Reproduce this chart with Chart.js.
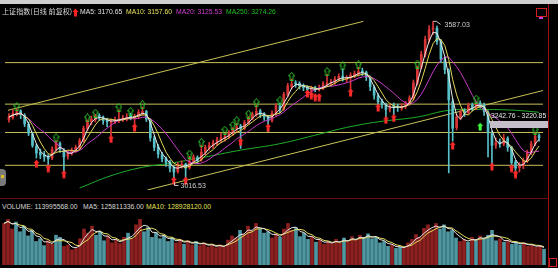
<!DOCTYPE html>
<html>
<head>
<meta charset="utf-8">
<script src="https://cdn.jsdelivr.net/npm/chart.js@4.4.1/dist/chart.umd.min.js"></script>
<style>
  body { margin: 0; background: #000; width: 558px; height: 268px; overflow: hidden; position: relative;
         font-family: "Liberation Sans", Arial, sans-serif; }
  .abs { position: absolute; white-space: nowrap; line-height: 1; }
  .t { font-size: 6.8px; }
</style>
</head>
<body>
<div class="abs" style="left:0;top:0;width:558px;height:4px;background:#cfcfcf"></div>

<div class="abs" style="left:0;top:5px;width:548px;height:190px"><canvas id="price" width="548" height="190"></canvas></div>
<div class="abs" style="left:0;top:211px;width:548px;height:54px"><canvas id="volume" width="548" height="54"></canvas></div>

<div class="abs" style="left:0;top:198px;width:548px;height:1px;background:#6a0c0c"></div>
<div class="abs" style="left:548px;top:4px;width:1px;height:264px;background:#a01010"></div>

<div class="abs" style="left:2px;top:8px;font-size:7.1px;color:#d8d8d8;font-family:'Noto Sans CJK SC'">上证指数(日线 前复权)</div>
<canvas class="abs" id="titleArrow" width="7" height="9" style="left:72px;top:8px"></canvas>
<div class="abs t" style="left:80px;top:9px;color:#e0e0e0">MA5: 3170.65</div>
<div class="abs t" style="left:126px;top:9px;color:#e6e05a">MA10: 3157.60</div>
<div class="abs t" style="left:176px;top:9px;color:#d040d0">MA20: 3125.53</div>
<div class="abs t" style="left:226px;top:9px;color:#20c020">MA250: 3274.26</div>

<div class="abs t" style="left:2px;top:204px;color:#d8d8d8">VOLUME: 113995568.00</div>
<div class="abs t" style="left:83px;top:204px;color:#d8d8d8">MA5: 125811336.00</div>
<div class="abs t" style="left:146px;top:204px;color:#e6e05a">MA10: 128928120.00</div>

<div class="abs" style="left:490px;top:121px;width:58px;height:7px;background:#c4bfc8"></div>
<div class="abs t" style="left:491px;top:113px;color:#e8e8e8">3242.76 - 3220.85</div>

<div class="abs" style="left:0;top:169px;width:6px;height:17px;background:#7a7a7a;border-radius:0 4px 4px 0"></div>
<div class="abs" style="left:1px;top:175px;width:3px;height:3px;background:#e0c020"></div>
<div class="abs" style="left:536px;top:8px;width:9px;height:7px;border:1px solid #d02020"></div>
<div class="abs" style="left:539px;top:17px;width:4px;height:2px;background:#c040e0"></div>
<div class="abs" style="left:549px;top:258px;width:6px;height:7px;border:1px solid #d02020"></div>

<script>
// one bar here covers about 4 px of the source picture
const closes = [
  3246, 3260, 3266, 3256, 3222, 3189, 3145, 3118, 3111, 3104,
  3097, 3131, 3155, 3131, 3104, 3118, 3128, 3138, 3162, 3206,
  3233, 3239, 3249, 3246, 3233, 3229, 3233, 3236, 3239, 3243,
  3246, 3246, 3249, 3263, 3266, 3239, 3172, 3138, 3114, 3097,
  3084, 3064, 3050, 3077, 3077, 3064, 3087, 3104, 3091, 3121,
  3138, 3145, 3155, 3165, 3172, 3178, 3189, 3206, 3212, 3206,
  3226, 3243, 3256, 3266, 3256, 3246, 3233, 3260, 3287, 3273,
  3327, 3357, 3364, 3364, 3357, 3351, 3344, 3347, 3344, 3347,
  3364, 3368, 3371, 3381, 3391, 3384, 3384, 3395, 3401, 3408,
  3405, 3388, 3354, 3324, 3300, 3290, 3273, 3283, 3283, 3280,
  3283, 3293, 3314, 3368, 3425, 3469, 3523, 3557, 3563, 3516,
  3452, 3415, 3307, 3206, 3246, 3263, 3263, 3287, 3280, 3293,
  3290, 3266, 3189, 3145, 3155, 3151, 3172, 3138, 3084, 3064,
  3074, 3091, 3121, 3151, 3178, 3172
];
const opens = [
  3236, 3244, 3258, 3268, 3252, 3220, 3185, 3142, 3120, 3112,
  3104, 3100, 3130, 3152, 3128, 3106, 3116, 3126, 3136, 3160,
  3204, 3230, 3236, 3252, 3246, 3236, 3226, 3230, 3234, 3238,
  3240, 3250, 3244, 3248, 3260, 3266, 3236, 3170, 3140, 3112,
  3098, 3086, 3066, 3052, 3074, 3078, 3066, 3088, 3102, 3094,
  3120, 3136, 3144, 3152, 3164, 3170, 3176, 3188, 3204, 3214,
  3206, 3224, 3240, 3254, 3268, 3258, 3248, 3234, 3258, 3286,
  3274, 3324, 3354, 3368, 3366, 3358, 3352, 3342, 3350, 3344,
  3348, 3362, 3366, 3370, 3380, 3392, 3380, 3386, 3394, 3400,
  3410, 3406, 3388, 3352, 3322, 3302, 3290, 3274, 3286, 3282,
  3278, 3284, 3292, 3312, 3366, 3424, 3468, 3520, 3560, 3562,
  3514, 3450, 3412, 3300, 3208, 3244, 3266, 3262, 3288, 3280,
  3296, 3290, 3262, 3186, 3146, 3158, 3150, 3170, 3136, 3086,
  3066, 3072, 3090, 3120, 3150, 3180
];
const highs = [
  3258, 3272, 3276, 3272, 3258, 3228, 3192, 3150, 3132, 3124,
  3112, 3140, 3162, 3158, 3134, 3126, 3136, 3146, 3170, 3214,
  3236, 3250, 3256, 3258, 3250, 3242, 3240, 3246, 3272, 3252,
  3258, 3260, 3256, 3272, 3282, 3270, 3240, 3178, 3148, 3120,
  3104, 3092, 3072, 3084, 3090, 3082, 3106, 3112, 3108, 3146,
  3146, 3156, 3164, 3174, 3190, 3188, 3198, 3208, 3224, 3220,
  3234, 3248, 3264, 3288, 3274, 3262, 3252, 3268, 3294, 3296,
  3334, 3366, 3382, 3376, 3372, 3364, 3358, 3356, 3356, 3360,
  3372, 3398, 3380, 3390, 3400, 3418, 3394, 3404, 3410, 3424,
  3420, 3410, 3392, 3358, 3330, 3310, 3296, 3292, 3296, 3292,
  3294, 3302, 3322, 3378, 3428, 3480, 3534, 3572, 3587.03, 3570,
  3522, 3460, 3418, 3310, 3256, 3272, 3276, 3296, 3296, 3302,
  3304, 3296, 3268, 3196, 3172, 3168, 3184, 3176, 3142, 3092,
  3084, 3100, 3128, 3160, 3190, 3186
];
const lows = [
  3228, 3238, 3250, 3240, 3212, 3180, 3138, 3100, 3098, 3088,
  3076, 3094, 3124, 3120, 3050, 3096, 3110, 3120, 3130, 3156,
  3198, 3218, 3228, 3234, 3220, 3212, 3178, 3222, 3226, 3230,
  3232, 3236, 3216, 3240, 3252, 3230, 3160, 3126, 3100, 3086,
  3070, 3050, 3016.53, 3046, 3064, 3030, 3060, 3082, 3080, 3088,
  3112, 3128, 3134, 3144, 3156, 3160, 3170, 3180, 3192, 3134,
  3200, 3220, 3236, 3248, 3244, 3234, 3195, 3228, 3252, 3262,
  3270, 3318, 3346, 3352, 3346, 3340, 3337, 3337, 3336, 3338,
  3344, 3356, 3358, 3362, 3374, 3374, 3370, 3344, 3386, 3392,
  3394, 3376, 3340, 3310, 3288, 3278, 3246, 3264, 3254, 3266,
  3270, 3276, 3288, 3306, 3360, 3418, 3460, 3512, 3540, 3505,
  3440, 3400, 3047, 3160, 3200, 3236, 3248, 3256, 3268, 3272,
  3278, 3252, 3104, 3080, 3134, 3138, 3144, 3124, 3070, 3052,
  3050, 3062, 3084, 3112, 3144, 3160
];
// volume in millions
const volumes = [
  300, 330, 260, 310, 240, 280, 210, 250, 170, 190,
  140, 175, 150, 215, 200, 135, 145, 110, 120, 190,
  260, 230, 280, 215, 240, 175, 210, 160, 185, 155,
  200, 230, 190, 290, 330, 240, 270, 200, 235, 190,
  215, 170, 195, 160, 185, 150, 175, 145, 170, 140,
  160, 130, 150, 125, 145, 130, 180, 210, 195, 250,
  225, 280, 245, 300, 260, 230, 240, 195, 225, 200,
  260, 300, 250, 270, 205, 230, 185, 205, 165, 180,
  150, 170, 155, 185, 160, 195, 170, 205, 180, 215,
  195, 225, 190, 200, 160, 170, 135, 145, 120, 130,
  125, 160, 185, 220, 200, 265, 290, 255, 300, 260,
  290, 240, 250, 195, 170, 185, 165, 200, 180, 210,
  190, 215, 250, 175, 190, 165, 175, 150, 165, 145,
  160, 135, 145, 128, 138, 114
];
// MA250, read at a few spots along the green line
const ma250Idx = [18, 26, 34, 41, 49, 59, 69, 79, 86, 94, 104, 112, 120, 129, 135];
const ma250Vals = [2993, 3037, 3067, 3081, 3101, 3128, 3151, 3185, 3209, 3229, 3246, 3270, 3273, 3270, 3263];

const levelLines = [3440, 3292, 3191, 3074];
const upperTrend = [{ x: -0.25, y: 3270 }, { x: 90.25, y: 3587 }];
const lowerTrend = [{ x: 35.25, y: 2986 }, { x: 136, y: 3340.6 }];

const buyIdx = [7, 10, 14, 26, 32, 42, 45, 59, 66, 76, 77, 78, 79, 87, 94, 96, 98, 113, 123, 128, 129];
const buyVals = [3080, 3064, 3043, 3168, 3209, 3020, 3020, 3158, 3209, 3330, 3324, 3317, 3317, 3334, 3280, 3236, 3243, 3145, 3070, 3064, 3043];
const sellIdx = [2, 12, 20, 22, 28, 31, 34, 46, 49, 55, 57, 58, 61, 63, 69, 72, 81, 85, 89, 104, 119, 134];
const sellVals = [3283, 3172, 3243, 3260, 3280, 3266, 3290, 3114, 3155, 3199, 3216, 3233, 3256, 3297, 3304, 3391, 3408, 3428, 3432, 3435, 3310, 3199];
const specialIdx = [120];
const specialVals = [3212];

const UP = '#d83636';
const DOWN = '#58c0c8';
const LEVEL = '#c9c156';

function movingAvg(arr, n) {
  return arr.map((_, i) => {
    const s = arr.slice(Math.max(0, i - n + 1), i + 1);
    return s.reduce((a, b) => a + b, 0) / s.length;
  });
}

function arrowImg(color, filled) {
  const c = document.createElement('canvas');
  c.width = 7; c.height = 9;
  const g = c.getContext('2d');
  g.beginPath();
  g.moveTo(3.5, 0.5); g.lineTo(6.5, 4); g.lineTo(5, 4); g.lineTo(5, 8.5);
  g.lineTo(2, 8.5); g.lineTo(2, 4); g.lineTo(0.5, 4); g.closePath();
  if (filled) { g.fillStyle = color; g.fill(); }
  else { g.strokeStyle = color; g.lineWidth = 1; g.stroke(); }
  return c;
}

(function () {
  const g = document.getElementById('titleArrow').getContext('2d');
  g.drawImage(arrowImg('#ff2020', true), 0, 0);
})();

const idx = closes.map((_, i) => i);
const isUp = idx.map(i => closes[i] >= opens[i]);
const pts = (xs, ys) => xs.map((x, i) => ({ x: x, y: ys[i] }));

// bars are ~2 px in the source, so MA5/10/20 span 3/5/10 bars here
const ma5 = movingAvg(closes, 3);
const ma10 = movingAvg(closes, 5);
const ma20 = movingAvg(closes, 10);
const vma5 = movingAvg(volumes, 3);
const vma10 = movingAvg(volumes, 5);

const line = (data, color, order, extra) => Object.assign({
  type: 'line', data: data, borderColor: color, borderWidth: 1,
  pointRadius: 0, fill: false, order: order
}, extra || {});

const arrows = (data, img, order) => ({
  type: 'line', data: data, showLine: false, pointStyle: img,
  pointRadius: 4, order: order
});

const marks = {
  id: 'marks',
  afterDatasetsDraw(chart) {
    const { ctx, scales: { x, y } } = chart;
    const hi = highs.indexOf(Math.max(...highs));
    const lo = lows.indexOf(Math.min(...lows));
    ctx.save();
    ctx.font = '7px "Liberation Sans"';
    ctx.fillStyle = '#cfcfcf';
    ctx.strokeStyle = '#cfcfcf';
    ctx.lineWidth = 1;
    let px = Math.round(x.getPixelForValue(hi)) + 0.5, py = y.getPixelForValue(highs[hi]);
    ctx.beginPath(); ctx.moveTo(px, py); ctx.lineTo(px + 3, py); ctx.lineTo(px + 7, py + 3); ctx.stroke();
    ctx.fillText(highs[hi].toFixed(2), px + 11, py + 6);
    px = Math.round(x.getPixelForValue(lo)) + 0.5; py = y.getPixelForValue(lows[lo]);
    ctx.beginPath(); ctx.moveTo(px, py + 1); ctx.lineTo(px, py + 4); ctx.lineTo(px + 4, py + 4); ctx.stroke();
    ctx.fillText(lows[lo].toFixed(2), px + 6, py + 7);
    ctx.restore();
  }
};

const commonOpts = (ymin, ymax) => ({
  responsive: false,
  animation: false,
  events: [],
  layout: { padding: 0 },
  plugins: { legend: { display: false }, tooltip: { enabled: false } },
  datasets: { bar: { grouped: false } },
  scales: {
    x: { type: 'linear', min: -1, max: 136, offset: false, display: false },
    y: { min: ymin, max: ymax, display: false }
  }
});

const priceSets = [];
levelLines.forEach(v => priceSets.push(line([{ x: -1, y: v }, { x: 136, y: v }], LEVEL, 6)));
priceSets.push(line(upperTrend, LEVEL, 6));
priceSets.push(line(lowerTrend, LEVEL, 6));
priceSets.push(line(pts(ma250Idx, ma250Vals), '#1fae2a', 5, { tension: 0.4 }));
priceSets.push({
  type: 'bar', data: idx.map(i => ({ x: i, y: [lows[i], highs[i]] })),
  backgroundColor: idx.map(i => isUp[i] ? UP : DOWN), barThickness: 1, order: 4
});
priceSets.push({
  type: 'bar', data: idx.map(i => ({ x: i, y: [Math.min(opens[i], closes[i]), Math.max(opens[i], closes[i])] })),
  backgroundColor: idx.map(i => isUp[i] ? UP : DOWN), barThickness: 2, minBarLength: 1, order: 3
});
priceSets.push(line(pts(idx, ma20), '#c83cc8', 2));
priceSets.push(line(pts(idx, ma10), '#e0d85a', 1));
priceSets.push(line(pts(idx, ma5), '#e8e8e8', 0));
priceSets.push(arrows(pts(buyIdx, buyVals), arrowImg('#ff2a2a', true), -1));
priceSets.push(arrows(pts(sellIdx, sellVals), arrowImg('#2ec82e', false), -1));
priceSets.push(arrows(pts(specialIdx, specialVals), arrowImg('#40ff40', true), -1));

new Chart(document.getElementById('price'), {
  type: 'bar',
  data: { datasets: priceSets },
  options: commonOpts(2986, 3627.5),
  plugins: [marks]
});

new Chart(document.getElementById('volume'), {
  type: 'bar',
  data: {
    datasets: [
      { type: 'bar', data: pts(idx, volumes), backgroundColor: idx.map(i => isUp[i] ? '#8e2020' : '#4f98a2'),
        barThickness: 3, order: 2 },
      line(pts(idx, vma10), '#e0d85a', 1),
      line(pts(idx, vma5), '#e0e0e0', 0)
    ]
  },
  options: commonOpts(0, 390)
});
</script>
</body>
</html>
